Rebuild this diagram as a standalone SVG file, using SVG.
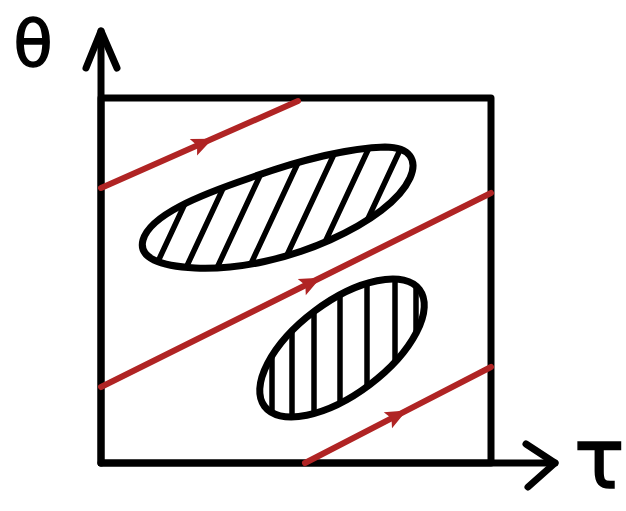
<svg xmlns="http://www.w3.org/2000/svg" width="626" height="511" viewBox="0 0 626 511">
<style>
.k{fill:none;stroke:#000;stroke-width:7;stroke-linecap:round;stroke-linejoin:round}
.h{fill:none;stroke:#000;stroke-width:5.5;stroke-linecap:round}
.r{fill:none;stroke:#b02424;stroke-width:6;stroke-linecap:round}
.lbl{font-family:"DejaVu Sans","Liberation Sans",sans-serif;fill:#000;stroke:#000;stroke-width:1.5}
</style>
<defs>
<marker id="ah" viewBox="-20 -12 26 24" markerWidth="26" markerHeight="24" refX="0" refY="0" orient="auto" markerUnits="userSpaceOnUse">
<path d="M-17,-9 L4,0 L-17,9 L-13,0 Z" fill="#b02424"/>
</marker>
<clipPath id="c1"><path d="M143,240 C150,215 200,195 250,178 C300,160 350,148 385,147 C410,147 418,160 410,178 C400,200 370,222 330,240 C290,258 240,270 195,268 C160,266 138,258 143,240 Z"/></clipPath>
<clipPath id="c2"><ellipse cx="342" cy="348" rx="97" ry="46" transform="rotate(-37 342 348)"/></clipPath>
</defs>
<rect width="626" height="511" fill="#fff"/>
<g id="frame">
<rect class="k" x="101" y="98" width="390" height="365"/>
</g>
<g id="theta-axis">
<line class="k" x1="101" y1="463" x2="101" y2="31"/>
<polyline class="k" points="86,68 101,31 117,68"/>
<text class="lbl" x="33" y="66" font-size="64" text-anchor="middle">θ</text>
</g>
<g id="tau-axis">
<line class="k" x1="101" y1="463" x2="555" y2="463"/>
<polyline class="k" points="526,444 555,463 528,487"/>
<text class="lbl" x="574" y="488" font-size="84">τ</text>
</g>
<g id="region-upper">
<g clip-path="url(#c1)">
<path class="h" d="M110,300 L180,150 M140,300 L210,150 M171,300 L241,150 M202,300 L272,150 M234,300 L304,150 M266,300 L336,150 M298,300 L368,150 M330,300 L400,150 M362,300 L432,150"/>
</g>
<path class="k" d="M143,240 C150,215 200,195 250,178 C300,160 350,148 385,147 C410,147 418,160 410,178 C400,200 370,222 330,240 C290,258 240,270 195,268 C160,266 138,258 143,240 Z"/>
</g>
<g id="region-lower">
<g clip-path="url(#c2)">
<path class="h" d="M272,270 V430 M292,270 V430 M314,270 V430 M340,270 V430 M367,270 V430 M395,270 V430 M416,270 V430"/>
</g>
<ellipse class="k" cx="342" cy="348" rx="97" ry="46" transform="rotate(-37 342 348)"/>
</g>
<g id="connectors">
<path class="r" d="M101,188 L209,140.3 L298,101" marker-mid="url(#ah)"/>
<path class="r" d="M101,387 L317,279.5 L491,193" marker-mid="url(#ah)"/>
<path class="r" d="M305,463 L403,412.4 L491,367" marker-mid="url(#ah)"/>
</g>
</svg>
